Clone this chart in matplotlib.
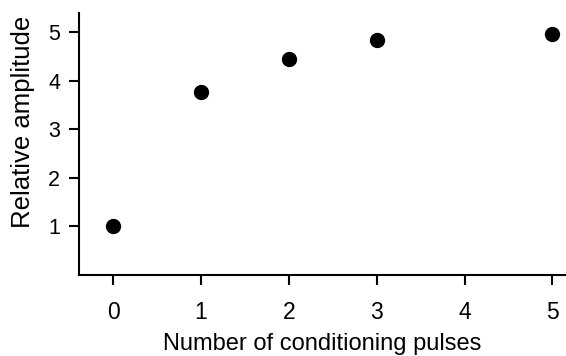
import matplotlib

matplotlib.use("Agg")
import matplotlib.pyplot as plt

# conditioning pulses vs relative amplitude
pulses = [0, 1, 2, 3, 5]
amplitude = [1.0, 3.77, 4.44, 4.84, 4.96]
x_ticks = [0, 1, 2, 3, 4, 5]
y_ticks = [1, 2, 3, 4, 5]

plt.rcParams["font.family"] = ["Liberation Sans", "DejaVu Sans"]

fig = plt.figure(figsize=(5.66, 3.56), dpi=100)
ax = fig.add_axes([0.1396, 0.2275, 0.858, 0.736])

ax.plot(pulses, amplitude, "o", color="black", markersize=10, linestyle="none")

ax.set_xlim(-0.39, 5.14)
ax.set_ylim(0.0, 5.39)
ax.set_xticks(x_ticks)
ax.set_yticks(y_ticks)

for side in ("top", "right"):
    ax.spines[side].set_visible(False)
for side in ("left", "bottom"):
    ax.spines[side].set_linewidth(1.5)

ax.tick_params(direction="out", length=7, width=1.5)
ax.tick_params(axis="x", pad=11.5, labelsize=16.5)
ax.tick_params(axis="y", pad=6.5, labelsize=15.5)
ax.set_xlabel("Number of conditioning pulses", fontsize=17, labelpad=7)
ax.set_ylabel("Relative amplitude", fontsize=18.5)
ax.yaxis.set_label_coords(-0.09, 0.585)

fig.savefig("out.png", dpi=100)
